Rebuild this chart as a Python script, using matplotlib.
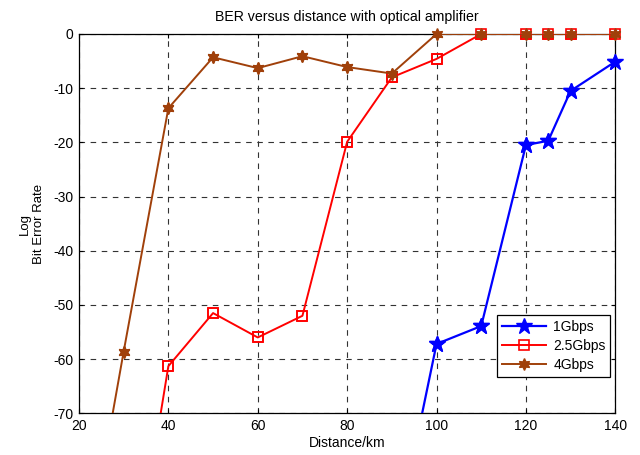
import matplotlib
matplotlib.use("Agg")
import matplotlib.pyplot as plt

plt.rcParams["font.family"] = ["Liberation Sans", "DejaVu Sans"]
plt.rcParams["axes.unicode_minus"] = False

# log10(BER) against link length, per bit rate
dist_1g = [90, 100, 110, 120, 125, 130, 140]
ber_1g = [-97, -57.2, -53.9, -20.5, -19.7, -10.5, -5.1]

dist_25g = [30, 40, 50, 60, 70, 80, 90, 100, 110, 120, 125, 130, 140]
ber_25g = [-112, -61.3, -51.5, -56.0, -52.0, -19.9, -8.0, -4.6, 0, 0, 0, 0, 0]

dist_4g = [20, 30, 40, 50, 60, 70, 80, 90, 100, 110, 120, 125, 130, 140]
ber_4g = [-105, -58.6, -13.7, -4.3, -6.3, -4.1, -6.1, -7.3, 0, 0, 0, 0, 0, 0]

BROWN = "#a0400a"
YMIN, YMAX = -70, 0

series = [
    (dist_1g, ber_1g, "1Gbps",
     dict(color="blue", lw=1.6, marker="*", ms=12, mfc="blue", mec="blue")),
    (dist_25g, ber_25g, "2.5Gbps",
     dict(color="red", lw=1.4, marker="s", ms=7.5, mfc="none", mec="red", mew=1.2)),
    (dist_4g, ber_4g, "4Gbps",
     dict(color=BROWN, lw=1.4, marker=(6, 1, 0), ms=8.5, mfc=BROWN, mec=BROWN)),
]

fig = plt.figure(figsize=(6.4, 4.55), dpi=100)
ax = fig.add_axes([0.1234, 0.0916, 0.838, 0.8337])

for z, (x, y, label, style) in enumerate(series):
    ax.plot(x, y, label=label, zorder=3 + z, **style)
    # markers on the axis edge are drawn unclipped, like the frame overlap
    vis = [(a, b) for a, b in zip(x, y) if YMIN <= b <= YMAX]
    mstyle = {k: v for k, v in style.items() if k != "lw"}
    ax.plot([a for a, _ in vis], [b for _, b in vis], ls="none",
            clip_on=False, zorder=3 + z, **mstyle)

ax.set_xlim(20, 140)
ax.set_ylim(YMIN, YMAX)
ax.set_xticks(range(20, 141, 20))
ax.set_yticks(range(-70, 1, 10))
ax.grid(True, color="0.2", ls=(0, (5, 5)), lw=0.8)
ax.tick_params(direction="in", top=True, right=True, labelsize=10, length=3, pad=4)
for s in ax.spines.values():
    s.set_linewidth(0.9)

ax.set_title("BER versus distance with optical amplifier", fontsize=10.2, pad=9)
ax.set_xlabel("Distance/km", fontsize=10, labelpad=2)
ax.set_ylabel("Log\nBit Error Rate", fontsize=9.5, labelpad=6)

leg = ax.legend(handles=ax.get_lines()[::2], loc="lower right",
                bbox_to_anchor=(0.991, 0.0965), borderaxespad=0,
                fancybox=False, edgecolor="black", fontsize=10,
                handlelength=3.2, handletextpad=0.5, framealpha=1,
                borderpad=0.35, labelspacing=0.35)
leg.get_frame().set_linewidth(0.9)

fig.savefig("out.png", dpi=100)
